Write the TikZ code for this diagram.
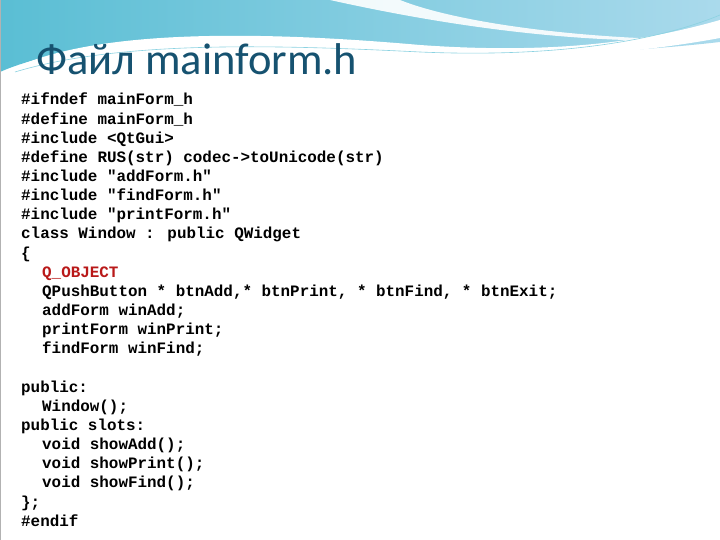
\documentclass[tikz,border=0pt]{standalone}
\usepackage{fontspec}
\setmainfont{Carlito}
\newfontfamily\codefont{Liberation Mono}
\definecolor{titlec}{RGB}{22,82,112}
\definecolor{bluel}{RGB}{90,190,212}
\definecolor{bluer}{RGB}{170,218,236}
\definecolor{qred}{RGB}{185,25,25}
\begin{document}
\begin{tikzpicture}[x=1pt,y=-1pt,
  code/.style={anchor=base west,inner sep=0pt,font=\codefont\bfseries\fontsize{15.9}{19}\selectfont}]
\useasboundingbox (0,0) rectangle (720,540);
\fill[white] (0,0) rectangle (720,540);
\shade[left color=bluel,right color=bluer] (0,0) -- (720,0) -- (720,42) .. controls (560,60) and (420,55) .. (300,45) .. controls (180,35) and (60,45) .. (0,72) -- cycle;
\fill[white,opacity=0.9] (330,0) .. controls (420,20) and (560,45) .. (700,40) .. controls (560,38) and (450,20) .. (400,0) -- cycle;
\fill[white] (10,70) .. controls (90,30) and (250,30) .. (420,45) .. controls (560,55) and (650,40) .. (720,20) -- (720,38) .. controls (600,60) and (480,62) .. (330,52) .. controls (200,42) and (80,45) .. (10,70) -- cycle;
\draw[bluel!70!white,line width=0.6pt] (15,72) .. controls (120,40) and (280,45) .. (420,52) .. controls (560,58) and (660,40) .. (720,15);
\draw[gray!60,line width=1pt] (0.5,0) -- (0.5,540);
\node[anchor=base west,inner sep=0pt,text=titlec,font=\fontsize{44.5}{46}\selectfont] (title) at (36,75) {Файл mainform.h};
\node[code] (l1) at (21,105) {\#ifndef mainForm\_h};
\node[code] (l2) at (21,124.1) {\#define mainForm\_h};
\node[code] (l3) at (21,143.3) {\#include <QtGui>};
\node[code] (l4) at (21,162.4) {\#define RUS(str) codec->toUnicode(str)};
\node[code] (l5) at (21,181.6) {\#include "addForm.h"};
\node[code] (l6) at (21,200.7) {\#include "findForm.h"};
\node[code] (l7) at (21,219.8) {\#include "printForm.h"};
\node[code] (l8) at (21,239.0) {class Window : public QWidget};
\node[code] (l9) at (21,258.1) {\{};
\node[code,text=qred] (l10) at (42,277.3) {Q\_OBJECT};
\node[code] (l11) at (42,296.4) {QPushButton * btnAdd,* btnPrint, * btnFind, * btnExit;};
\node[code] (l12) at (42,315.5) {addForm winAdd;};
\node[code] (l13) at (42,334.7) {printForm winPrint;};
\node[code] (l14) at (42,353.8) {findForm winFind;};
\node[code] (l16) at (21,392.1) {public:};
\node[code] (l17) at (42,411.3) {Window();};
\node[code] (l18) at (21,430.4) {public slots:};
\node[code] (l19) at (42,449.5) {void showAdd();};
\node[code] (l20) at (42,468.7) {void showPrint();};
\node[code] (l21) at (42,487.8) {void showFind();};
\node[code] (l22) at (21,507.0) {\};};
\node[code] (l23) at (21,526.1) {\#endif};
\end{tikzpicture}
\end{document}
